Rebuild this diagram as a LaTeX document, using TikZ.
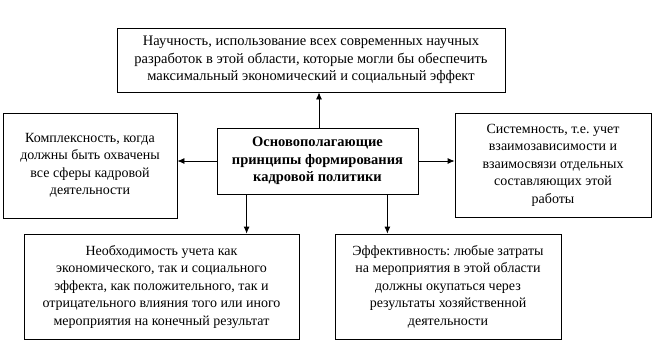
\documentclass[tikz,border=0pt]{standalone}
\usepackage{fontspec}
\setmainfont{Liberation Serif}
\usetikzlibrary{positioning,calc}
\usetikzlibrary{arrows.meta}
\tikzset{
  box/.style={draw=black,fill=white,line width=0.8pt,align=center,inner sep=2pt,
    font=\fontsize{14}{17.5}\selectfont},
  link/.style={draw=black,line width=0.8pt,-{Latex[length=7pt,width=6pt]}},
}
\frenchspacing
\begin{document}
\begin{tikzpicture}[x=1pt,y=-1pt]
\useasboundingbox (0,0) rectangle (653,351);
\node[box,minimum width=388pt,minimum height=64pt,font=\fontsize{14.5}{17.5}\selectfont] (top) at (311,60)
  {Научность, использование всех современных научных\\
   разработок в этой области, которые могли бы обеспечить\\
   максимальный экономический и социальный эффект};
\node[box,minimum width=201pt,minimum height=66pt,font=\bfseries\fontsize{14.5}{17.5}\selectfont] (core) at (317.5,161)
  {Основополагающие\\принципы формирования\\кадровой политики};
\node[box,minimum width=174pt,minimum height=105pt] (left) at (90,165.5)
  {Комплексность, когда\\должны быть охвачены\\все сферы кадровой\\деятельности};
\node[box,minimum width=196pt,minimum height=104pt] (right) at (553,165)
  {Системность, т.е. учет\\взаимозависимости и\\взаимосвязи отдельных\\составляющих этой\\работы};
\node[box,minimum width=275pt,minimum height=105pt] (botL) at (161.5,286.5)
  {Необходимость учета как\\экономического, так и социального\\эффекта, как положительного, так и\\отрицательного влияния того или иного\\мероприятия на конечный результат};
\node[box,minimum width=226pt,minimum height=105pt] (botR) at (448,286.5)
  {Эффективность: любые затраты\\на мероприятия в этой области\\должны окупаться через\\результаты хозяйственной\\деятельности};
\draw[link] ([xshift=1.5pt]core.north) -- ([xshift=1.5pt]core.north |- top.south);
\draw[link] (core.west) -- (core.west -| left.east);
\draw[link] (core.east) -- (core.east -| right.west);
\draw[link] ([xshift=30pt]core.south west) -- ([xshift=30pt]core.south west |- botL.north);
\draw[link] ([xshift=-31pt]core.south east) -- ([xshift=-31pt]core.south east |- botR.north);
\end{tikzpicture}
\end{document}
